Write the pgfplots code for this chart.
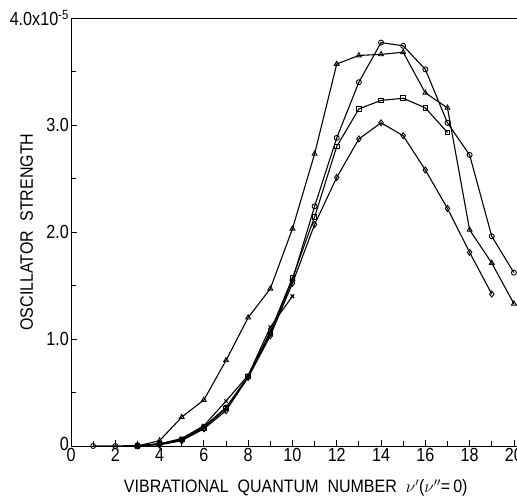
\documentclass[border=0pt]{standalone}
\usepackage{fontspec}
\setmainfont{Liberation Sans}[FakeStretch=0.85]
\newfontfamily\lblfont{Liberation Sans}[FakeStretch=0.89]
\usepackage{pgfplots}
\pgfplotsset{compat=1.18}
\begin{document}
\begin{tikzpicture}
\useasboundingbox (0,0) rectangle (517pt,497pt);
\begin{axis}[
  at={(71pt,51pt)}, anchor=south west,
  width=446pt, height=428pt, scale only axis,
  xmin=0, xmax=20.14, ymin=0, ymax=4,
  axis x line*=bottom, axis y line*=left,
  axis line style={-, line width=0.9pt},
  xtick={0,2,...,20}, xticklabels={0,2,4,6,8,10,12,14,16,18,20},
  minor xtick={1,3,...,19},
  ytick={0,1,2,3,4}, yticklabels={\raisebox{5pt}{0},1.0,2.0,3.0,{4.0x10\textsuperscript{-5}}},
  minor ytick={0.5,1.5,2.5,3.5},
  tick align=inside, major tick length=6pt, minor tick length=5pt,
  tick style={black, line width=0.8pt},
  tick label style={font=\fontsize{19}{22}\selectfont},
  xticklabel style={inner sep=2pt},
  yticklabel style={inner sep=2pt},
  xlabel={VIBRATIONAL\ \ QUANTUM\ \ NUMBER\ \ $\nu'$($\nu''$=\,0)},
  ylabel={OSCILLATOR\ \ STRENGTH},
  label style={font=\lblfont\fontsize{18}{21}\selectfont},
  xlabel style={at={(axis description cs:0.504,-0.1098)}, anchor=base},
  ylabel style={at={(axis description cs:-0.0852,0.5)}, anchor=base},
  every axis plot/.append style={black, line width=1.1pt},
  clip=false,
]
% circles (highest peak)
\addplot[mark=o, mark size=2.5pt, mark options={solid, fill=white, line width=0.9pt}] coordinates {
 (1,0) (2,0) (3,0.005) (4,0.02) (5,0.06) (6,0.18) (7,0.36) (8,0.65) (9,1.05) (10,1.55)
 (11,2.24) (12,2.88) (13,3.40) (14,3.77) (15,3.74) (16,3.52) (17,3.02) (18,2.72) (19,1.96) (20,1.62)};
% triangles
\addplot[mark=triangle, mark size=2.8pt, mark options={solid, fill=white, line width=0.9pt}] coordinates {
 (3,0) (4,0.05) (5,0.27) (6,0.43) (7,0.80) (8,1.20) (9,1.47) (10,2.03) (11,2.73) (12,3.57)
 (13,3.65) (14,3.66) (15,3.68) (16,3.30) (17,3.16) (18,2.02) (19,1.71) (20,1.33)};
% squares
\addplot[mark=square, mark size=2.3pt, mark options={solid, fill=white, line width=0.9pt}] coordinates {
 (3,0) (4,0.02) (5,0.06) (6,0.17) (7,0.35) (8,0.65) (9,1.07) (10,1.57) (11,2.14) (12,2.80)
 (13,3.15) (14,3.23) (15,3.25) (16,3.16) (17,2.93)};
% diamonds
\addplot[mark=diamond, mark size=3pt, mark options={solid, fill=white, line width=0.9pt}] coordinates {
 (3,0) (4,0.02) (5,0.05) (6,0.16) (7,0.33) (8,0.64) (9,1.03) (10,1.52) (11,2.07) (12,2.51)
 (13,2.87) (14,3.02) (15,2.90) (16,2.58) (17,2.22) (18,1.81) (19,1.42)};
% crosses
\addplot[mark=x, mark size=2.5pt, mark options={solid}] coordinates {
 (3,0) (4,0.02) (5,0.07) (6,0.19) (7,0.42) (8,0.66) (9,1.11) (10,1.40)};
% filled diamonds
\addplot[mark=diamond*, mark size=3pt, mark options={solid, fill=black}] coordinates {
 (3,0.005) (4,0.01) (5,0.05)};
\draw[line width=0.9pt] (rel axis cs:0,1) -- (rel axis cs:1,1);
\end{axis}
\end{tikzpicture}
\end{document}
